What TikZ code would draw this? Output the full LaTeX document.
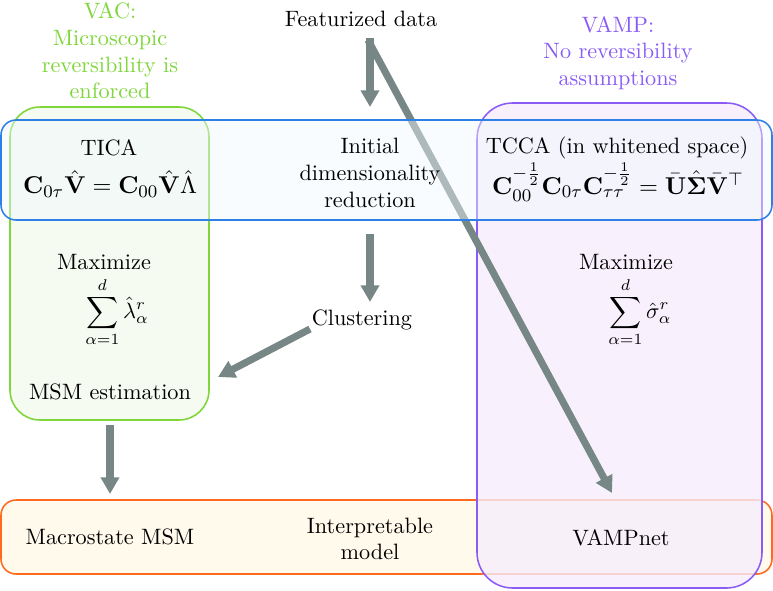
\documentclass[tikz,border=0pt]{standalone}
\usepackage{amsmath,amssymb,bm}
\usetikzlibrary{arrows.meta}
\definecolor{vacgreen}{HTML}{7ED63A}
\definecolor{vacfill}{HTML}{F4FAEE}
\definecolor{vampviolet}{HTML}{8A5CF5}
\definecolor{vampfill}{HTML}{F6EEFD}
\definecolor{dimblue}{HTML}{2F80E6}
\definecolor{dimfill}{HTML}{F2F8FD}
\definecolor{modorange}{HTML}{FF6A1F}
\definecolor{modfill}{HTML}{FFFAEC}
\definecolor{arrowgray}{HTML}{778785}
\tikzset{
  flow/.style={line width=3.2pt, draw=arrowgray, -{Triangle[width=8pt,length=7.5pt]}},
  lbl/.style={align=center, inner sep=0pt},
  eqlbl/.style={align=center, inner sep=0pt, font=\fontsize{11.2pt}{13pt}\selectfont},
  box/.style={line width=0.7pt}
}
\begin{document}
\begin{tikzpicture}[x=0.45pt,y=-0.45pt]
\useasboundingbox (0,0) rectangle (773,590);
% boxes (back)
\draw[box, draw=modorange, fill=modfill, rounded corners=6.75pt] (1,500) rectangle (772,574);
\draw[box, draw=vampviolet, fill=vampfill, fill opacity=0.8, rounded corners=16pt] (477,103) rectangle (762,588);
\draw[box, draw=vacgreen, fill=vacfill, fill opacity=0.8, rounded corners=13.5pt] (10,107) rectangle (209,420);
% coordinates of arrow ends
\coordinate (fs) at (370,38);
\coordinate (ft) at (370,107);
\coordinate (ds) at (370,234);
\coordinate (dt) at (370,302);
\coordinate (cs) at (310,329);
\coordinate (ct) at (218,377);
\coordinate (ms) at (110,425);
\coordinate (mt) at (110,494);
\coordinate (ls) at (368,40);
\coordinate (lt) at (612,493);
\draw[flow] (fs) -- (ft);
\draw[flow] (ls) -- (lt);
\draw[flow] (ds) -- (dt);
\draw[flow] (cs) -- (ct);
\draw[flow] (ms) -- (mt);
% blue strip over the long arrow
\draw[box, draw=dimblue, fill=dimfill, fill opacity=0.45, rounded corners=6.75pt] (1,120) rectangle (772,220);
% texts
\node[lbl] (feat) at (361,19) {Featurized data};
\node[lbl, text=vacgreen] (vac) at (110,51) {VAC:\\Microscopic\\reversibility is\\enforced};
\node[lbl, text=vampviolet] (vamp) at (618,53) {VAMP:\\No reversibility\\assumptions};
\node[lbl] (tica) at (109,148) {TICA};
\node[eqlbl] (ticaeq) at (110,184) {$\mathbf{C}_{0\tau}\hat{\mathbf{V}}=\mathbf{C}_{00}\hat{\mathbf{V}}\hat{\Lambda}$};
\node[lbl] (init) at (370,173) {Initial\\dimensionality\\reduction};
\node[lbl] (tcca) at (617,148) {TCCA (in whitened space)};
\node[eqlbl] (tccaeq) at (618,182) {$\mathbf{C}_{00}^{-\frac{1}{2}}\mathbf{C}_{0\tau}\mathbf{C}_{\tau\tau}^{-\frac{1}{2}}=\bar{\mathbf{U}}\hat{\bm{\Sigma}}\bar{\mathbf{V}}^{\top}$};
\node[lbl] (maxl) at (104,262) {Maximize};
\node[lbl] (suml) at (117,312) {$\displaystyle\sum_{\alpha=1}^{d}\hat{\lambda}_{\alpha}^{r}$};
\node[lbl] (maxr) at (626,262) {Maximize};
\node[lbl] (sumr) at (640,312) {$\displaystyle\sum_{\alpha=1}^{d}\hat{\sigma}_{\alpha}^{r}$};
\node[lbl] (clus) at (362,320) {Clustering};
\node[lbl] (msm) at (110,392) {MSM estimation};
\node[lbl] (macro) at (110,537) {Macrostate MSM};
\node[lbl] (interp) at (370,539) {Interpretable\\model};
\node[lbl] (vampnet) at (621,538) {VAMPnet};
\end{tikzpicture}
\end{document}
